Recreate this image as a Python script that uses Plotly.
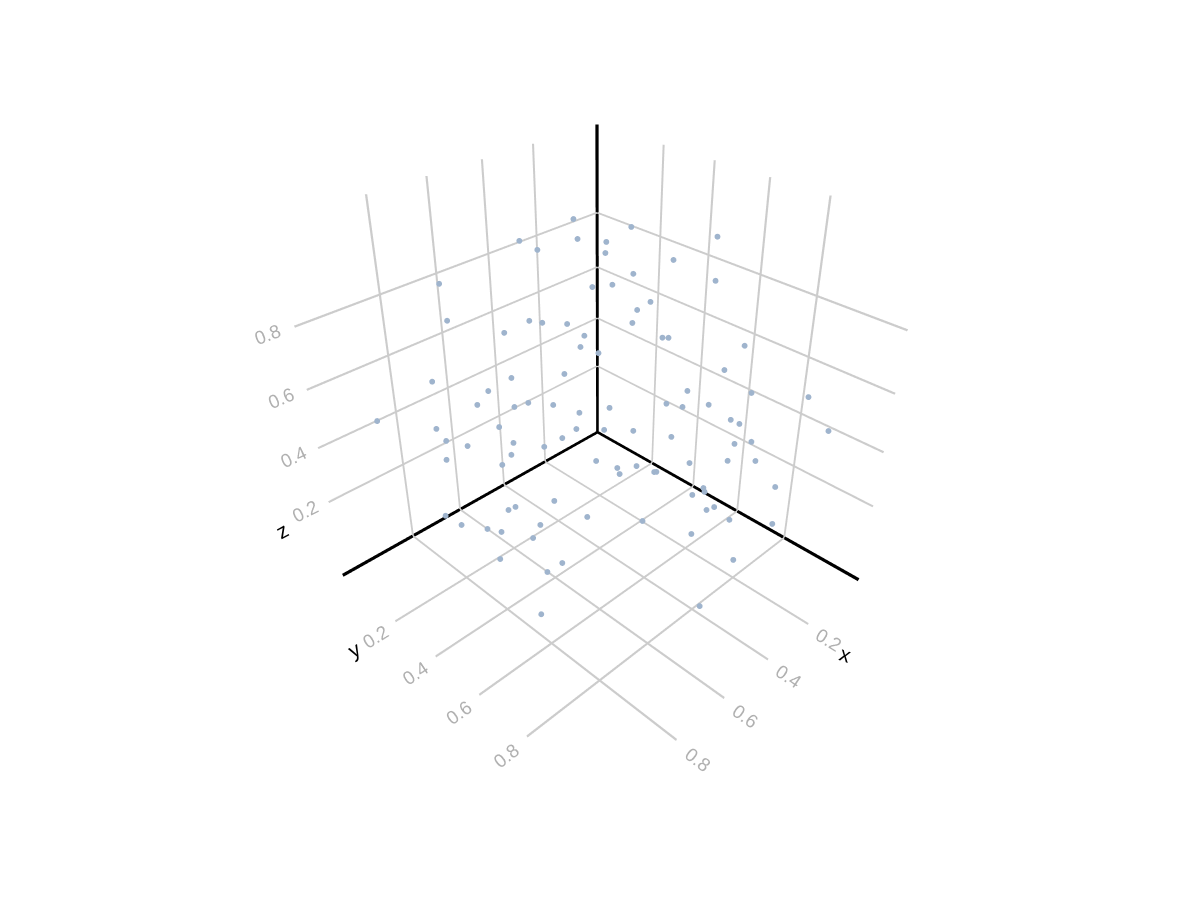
import numpy as np
import plotly.graph_objects as go

x_vals = [0.280,0.492,0.457,0.311,0.246,0.270,0.191,0.139,0.227,0.288,0.325,0.357,0.794,0.236,0.326,0.350,0.375,0.825,0.608,0.572,
          0.498,0.698,0.462,0.491,0.376,0.372,0.291,0.444,0.323,0.579,0.705,0.864,0.756,0.382,0.270,0.151,0.781,0.702,0.670,0.612,
          0.413,0.388,0.345,0.494,0.547,0.971,0.304,0.287,0.091,0.738,0.866,0.556,0.500,0.461,0.592,0.403,0.850,0.709,0.637,0.808,
          0.293,0.260,0.715,0.853,0.568,0.371,0.303,0.248,0.737,0.539,0.482,0.546,0.445,0.439,0.199,0.344,0.341,0.383,0.704,0.763,
          0.777,0.370,0.340,0.694,0.317,0.579,0.765,0.867,0.860,0.195,0.836,0.824,0.462,0.797,0.870,0.377,0.805,0.836,0.558,0.907]
y_vals = [0.171,0.174,0.209,0.220,0.273,0.293,0.320,0.595,0.516,0.422,0.376,0.327,0.201,0.674,0.524,0.497,0.503,0.265,0.338,0.350,
          0.370,0.339,0.401,0.415,0.616,0.634,0.827,0.439,0.792,0.442,0.367,0.224,0.327,0.718,0.849,0.953,0.306,0.369,0.391,0.429,
          0.672,0.709,0.765,0.533,0.466,0.091,0.813,0.831,0.995,0.341,0.222,0.462,0.518,0.595,0.441,0.687,0.240,0.364,0.413,0.281,
          0.825,0.858,0.359,0.236,0.554,0.732,0.814,0.870,0.342,0.609,0.630,0.625,0.665,0.668,0.914,0.767,0.770,0.759,0.524,0.423,
          0.408,0.804,0.808,0.646,0.849,0.746,0.531,0.221,0.288,0.917,0.380,0.429,0.827,0.535,0.474,0.918,0.662,0.635,0.948,0.685]
z_vals = [0.953,0.950,0.923,0.915,0.902,0.881,0.946,0.983,0.917,0.864,0.827,0.814,0.930,0.910,0.826,0.800,0.771,0.857,0.803,0.788,
          0.764,0.801,0.725,0.706,0.769,0.774,0.794,0.677,0.719,0.667,0.676,0.671,0.639,0.647,0.649,0.629,0.596,0.582,0.591,0.575,
          0.599,0.594,0.607,0.559,0.536,0.531,0.561,0.548,0.509,0.519,0.517,0.483,0.480,0.495,0.459,0.491,0.477,0.462,0.437,0.459,
          0.481,0.488,0.421,0.411,0.424,0.407,0.422,0.422,0.388,0.413,0.401,0.404,0.379,0.378,0.327,0.322,0.308,0.314,0.340,0.295,
          0.283,0.277,0.273,0.347,0.236,0.324,0.293,0.206,0.206,0.189,0.231,0.242,0.256,0.267,0.197,0.163,0.260,0.230,0.127,0.156]
tick_vals = [0.2, 0.4, 0.6, 0.8]

x_lo, x_hi = -0.0745, 1.0737
y_lo, y_hi = -0.0872, 1.0893
z_lo, z_hi = -0.0973, 1.0979
eye = dict(x=1.6493, y=1.6503, z=1.5554)
H = 830.72
TOP, LEFT = 6.27, 79.68
PAD = 0.012

view = np.array([eye["x"], eye["y"], eye["z"]])
view = view / np.linalg.norm(view)


def ribbon(a, b, w, m):
    a = np.array(a, float)
    b = np.array(b, float)
    o = np.cross((b - a) / np.linalg.norm(b - a), view)
    o = o / np.linalg.norm(o) * w
    n = len(m["x"])
    for c in (a - o, a + o, b + o, b - o):
        m["x"].append(c[0])
        m["y"].append(c[1])
        m["z"].append(c[2])
    m["i"] += [n, n]
    m["j"] += [n + 1, n + 2]
    m["k"] += [n + 2, n + 3]


def new_mesh():
    return dict(x=[], y=[], z=[], i=[], j=[], k=[])


grid = new_mesh()
GW = 0.0031
for t in tick_vals:
    ribbon((t, y_lo, z_lo), (t, y_hi, z_lo), GW, grid)
    ribbon((t, y_lo, z_lo), (t, y_lo, z_hi), GW, grid)
    ribbon((x_lo, t, z_lo), (x_hi, t, z_lo), GW, grid)
    ribbon((x_lo, t, z_lo), (x_lo, t, z_hi), GW, grid)
    ribbon((x_lo, y_lo, t), (x_hi, y_lo, t), GW, grid)
    ribbon((x_lo, y_lo, t), (x_lo, y_hi, t), GW, grid)

axes_mesh = new_mesh()
AW = 0.0052
ribbon((x_lo, y_lo, z_lo), (x_hi, y_lo, z_lo), AW, axes_mesh)
ribbon((x_lo, y_lo, z_lo), (x_lo, y_hi, z_lo), AW, axes_mesh)
ribbon((x_lo, y_lo, z_lo), (x_lo, y_lo, z_hi), AW, axes_mesh)

flat = dict(ambient=1, diffuse=0, specular=0, roughness=1, fresnel=0)
fig = go.Figure()
fig.add_trace(go.Mesh3d(**grid, color="#cccccc", flatshading=True, lighting=flat, hoverinfo="skip"))
fig.add_trace(go.Mesh3d(**axes_mesh, color="#000000", flatshading=True, lighting=flat, hoverinfo="skip"))
fig.add_trace(go.Scatter3d(x=x_vals, y=y_vals, z=z_vals, mode="markers",
                           marker=dict(size=3.4, color="#9fb4cd")))


def axis(lo, hi):
    return dict(range=[lo - PAD, hi + PAD], tickvals=tick_vals, showbackground=False, showgrid=False,
                zeroline=False, showline=False, title=dict(text=""),
                tickfont=dict(color="#b0b0b0", size=15, family="Liberation Sans"))


def title(text, px, py, angle):
    return dict(xref="paper", yref="paper", x=(px - LEFT) / 1040, y=1 - (py - TOP) / H, text=text,
                textangle=angle, showarrow=False, font=dict(color="#000000", size=21, family="Liberation Sans"))


fig.update_layout(
    showlegend=False,
    paper_bgcolor="white",
    margin=dict(t=TOP, b=900 - TOP - H, l=LEFT, r=1200 - LEFT - 1040),
    scene=dict(
        xaxis=axis(x_lo, x_hi), yaxis=axis(y_lo, y_hi), zaxis=axis(z_lo, z_hi),
        aspectmode="manual",
        aspectratio=dict(x=x_hi - x_lo + 2 * PAD, y=y_hi - y_lo + 2 * PAD, z=z_hi - z_lo + 2 * PAD),
        camera=dict(eye=eye),
    ),
    annotations=[title("x", 861, 675, 18), title("y", 337, 670, -28), title("z", 264, 533, -28)],
)
fig.write_html("out.html")
